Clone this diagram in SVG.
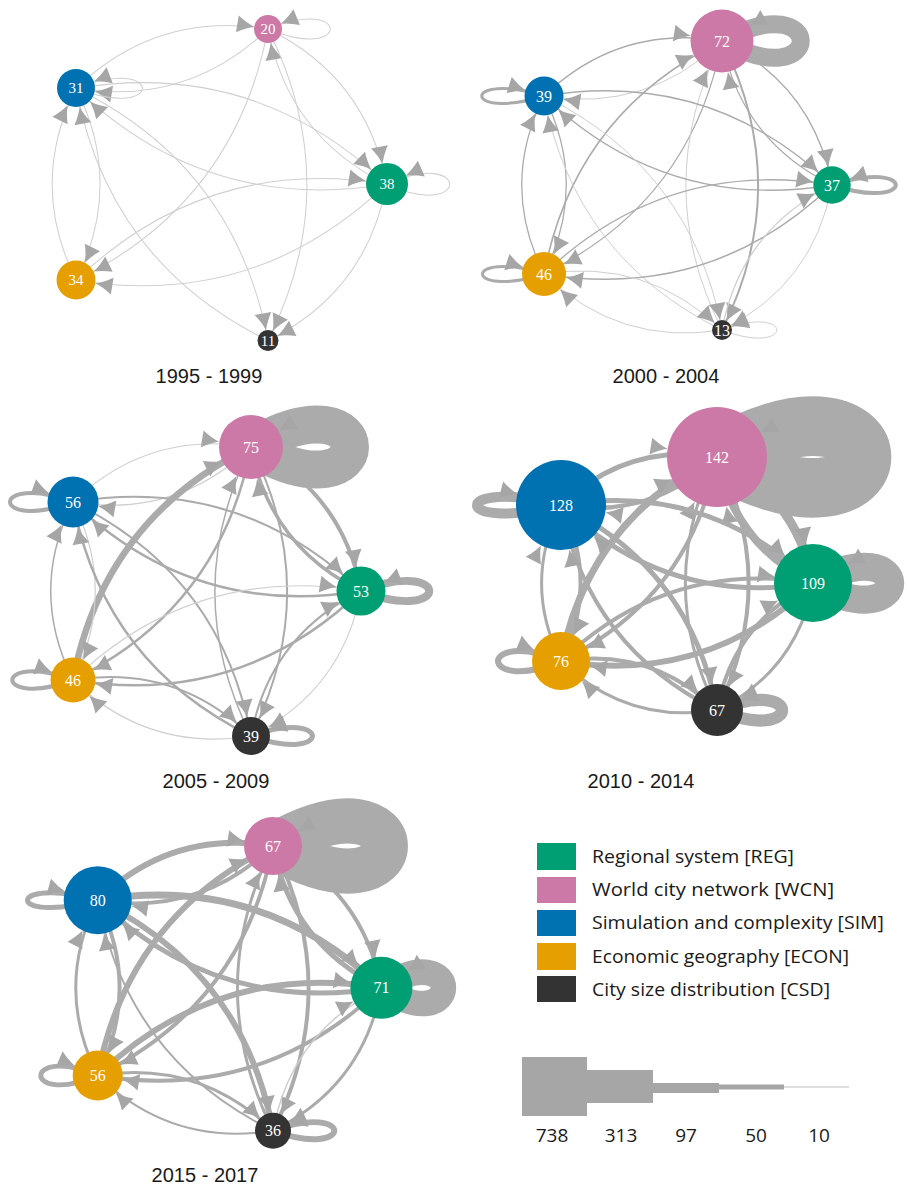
<svg xmlns="http://www.w3.org/2000/svg" xmlns:xlink="http://www.w3.org/1999/xlink" width="907" height="1185" viewBox="0 0 907 1185">
<style>
.t{font-family:"Liberation Sans",Arial,sans-serif;font-size:20px;fill:#1a1a1a;text-anchor:middle}
.nl{font-family:"Liberation Serif","Times New Roman",serif;fill:#fff;text-anchor:middle;dominant-baseline:central;font-size:16px}
.lg{font-family:"Open Sans","Liberation Sans",sans-serif;font-size:19px;fill:#1a1a1a}
.ed path{fill:none;stroke:#ababab}
.ed path.l{stroke:#cfcfcf}
.wcn{fill:#CC79A7}.sim{fill:#0072B2}.reg{fill:#009E73}.econ{fill:#E69F00}.csd{fill:#333333}
</style>
<defs>
<path id="ah" d="M0,0 Q-8,-2.5 -17,-8.5 L-17,8.5 Q-8,2.5 0,0 Z" fill="#a6a6a6"/>
<marker id="m1p" markerUnits="userSpaceOnUse" orient="auto" refX="13" refY="0" markerWidth="40" markerHeight="40" overflow="visible"><use href="#ah" transform="scale(0.93)"/></marker>
<marker id="m1b" markerUnits="userSpaceOnUse" orient="auto" refX="17.6" refY="0" markerWidth="40" markerHeight="40" overflow="visible"><use href="#ah" transform="scale(0.93)"/></marker>
<marker id="m1g" markerUnits="userSpaceOnUse" orient="auto" refX="19.5" refY="0" markerWidth="40" markerHeight="40" overflow="visible"><use href="#ah" transform="scale(0.93)"/></marker>
<marker id="m1o" markerUnits="userSpaceOnUse" orient="auto" refX="18.1" refY="0" markerWidth="40" markerHeight="40" overflow="visible"><use href="#ah" transform="scale(0.93)"/></marker>
<marker id="m1k" markerUnits="userSpaceOnUse" orient="auto" refX="9.7" refY="0" markerWidth="40" markerHeight="40" overflow="visible"><use href="#ah" transform="scale(0.93)"/></marker>
<marker id="m2p" markerUnits="userSpaceOnUse" orient="auto" refX="31.5" refY="0" markerWidth="40" markerHeight="40" overflow="visible"><use href="#ah"/></marker>
<marker id="m2b" markerUnits="userSpaceOnUse" orient="auto" refX="19.5" refY="0" markerWidth="40" markerHeight="40" overflow="visible"><use href="#ah"/></marker>
<marker id="m2g" markerUnits="userSpaceOnUse" orient="auto" refX="18.7" refY="0" markerWidth="40" markerHeight="40" overflow="visible"><use href="#ah"/></marker>
<marker id="m2o" markerUnits="userSpaceOnUse" orient="auto" refX="22" refY="0" markerWidth="40" markerHeight="40" overflow="visible"><use href="#ah"/></marker>
<marker id="m2k" markerUnits="userSpaceOnUse" orient="auto" refX="10" refY="0" markerWidth="40" markerHeight="40" overflow="visible"><use href="#ah"/></marker>
<marker id="m3p" markerUnits="userSpaceOnUse" orient="auto" refX="32.5" refY="0" markerWidth="40" markerHeight="40" overflow="visible"><use href="#ah"/></marker>
<marker id="m3b" markerUnits="userSpaceOnUse" orient="auto" refX="25.5" refY="0" markerWidth="40" markerHeight="40" overflow="visible"><use href="#ah"/></marker>
<marker id="m3g" markerUnits="userSpaceOnUse" orient="auto" refX="24.5" refY="0" markerWidth="40" markerHeight="40" overflow="visible"><use href="#ah"/></marker>
<marker id="m3o" markerUnits="userSpaceOnUse" orient="auto" refX="22.5" refY="0" markerWidth="40" markerHeight="40" overflow="visible"><use href="#ah"/></marker>
<marker id="m3k" markerUnits="userSpaceOnUse" orient="auto" refX="19.5" refY="0" markerWidth="40" markerHeight="40" overflow="visible"><use href="#ah"/></marker>
<marker id="m4p" markerUnits="userSpaceOnUse" orient="auto" refX="57.1" refY="0" markerWidth="40" markerHeight="40" overflow="visible"><use href="#ah" transform="scale(1.14)"/></marker>
<marker id="m4b" markerUnits="userSpaceOnUse" orient="auto" refX="51.4" refY="0" markerWidth="40" markerHeight="40" overflow="visible"><use href="#ah" transform="scale(1.14)"/></marker>
<marker id="m4g" markerUnits="userSpaceOnUse" orient="auto" refX="44.5" refY="0" markerWidth="40" markerHeight="40" overflow="visible"><use href="#ah" transform="scale(1.14)"/></marker>
<marker id="m4o" markerUnits="userSpaceOnUse" orient="auto" refX="33.1" refY="0" markerWidth="40" markerHeight="40" overflow="visible"><use href="#ah" transform="scale(1.14)"/></marker>
<marker id="m4k" markerUnits="userSpaceOnUse" orient="auto" refX="29.7" refY="0" markerWidth="40" markerHeight="40" overflow="visible"><use href="#ah" transform="scale(1.14)"/></marker>
<marker id="m5p" markerUnits="userSpaceOnUse" orient="auto" refX="29.4" refY="0" markerWidth="40" markerHeight="40" overflow="visible"><use href="#ah"/></marker>
<marker id="m5b" markerUnits="userSpaceOnUse" orient="auto" refX="34.5" refY="0" markerWidth="40" markerHeight="40" overflow="visible"><use href="#ah"/></marker>
<marker id="m5g" markerUnits="userSpaceOnUse" orient="auto" refX="31.5" refY="0" markerWidth="40" markerHeight="40" overflow="visible"><use href="#ah"/></marker>
<marker id="m5o" markerUnits="userSpaceOnUse" orient="auto" refX="25.4" refY="0" markerWidth="40" markerHeight="40" overflow="visible"><use href="#ah"/></marker>
<marker id="m5k" markerUnits="userSpaceOnUse" orient="auto" refX="18.3" refY="0" markerWidth="40" markerHeight="40" overflow="visible"><use href="#ah"/></marker>
</defs>
<rect width="907" height="1185" fill="#fff"/>

<!-- ===== 1995 - 1999 ===== -->
<g id="edges-1995" class="ed" transform="translate(268,29) scale(1.078)" stroke-width="0.95">
<path class="l" d="M-178,55 Q-102.75,-17 0,0" marker-end="url(#m1p)"/>
<path class="l" d="M110,144 Q19,99.5 0,0" marker-end="url(#m1p)"/>
<path class="l" d="M0,0 Q-75.25,72 -178,55" marker-end="url(#m1b)"/>
<path class="l" d="M0,0 Q91,44.5 110,144" marker-end="url(#m1g)"/>
<path class="l" d="M0,0 Q-30.75,161 -178,233" marker-end="url(#m1o)"/>
<path class="l" d="M0,0 Q72.25,144.5 0,289" marker-end="url(#m1k)"/>
<path class="l" d="M-178,55 Q-11.75,27.5 110,144" marker-end="url(#m1g)"/>
<path class="l" d="M-178,55 Q-133.5,144 -178,233" marker-end="url(#m1o)"/>
<path class="l" d="M-178,55 Q-30.5,127.5 0,289" marker-end="url(#m1k)"/>
<path class="l" d="M110,144 Q-56.25,171.5 -178,55" marker-end="url(#m1b)"/>
<path class="l" d="M110,144 Q-11.75,260.5 -178,233" marker-end="url(#m1o)"/>
<path class="l" d="M110,144 Q91.25,244 0,289" marker-end="url(#m1k)"/>
<path class="l" d="M-178,233 Q-222.5,144 -178,55" marker-end="url(#m1b)"/>
<path class="l" d="M-178,233 Q-56.25,116.5 110,144" marker-end="url(#m1g)"/>
<path class="l" d="M0,289 Q-147.5,216.5 -178,55" marker-end="url(#m1b)"/>
<path class="l" d="M0,0 C77,32 77,-32 0,0" marker-end="url(#m1p)"/>
<path class="l" d="M-178,55 C-96,87 -96,23 -178,55" marker-end="url(#m1b)"/>
<path class="l" d="M110,144 C188,179 188,109 110,144" marker-end="url(#m1g)"/>
</g>
<g id="n1995-wcn"><circle class="wcn" cx="268" cy="29" r="14"/><text class="nl" x="268" y="29" style="font-size:15px">20</text></g>
<g id="n1995-sim"><circle class="sim" cx="76" cy="88" r="19"/><text class="nl" x="76" y="88" style="font-size:15px">31</text></g>
<g id="n1995-reg"><circle class="reg" cx="387" cy="184" r="21"/><text class="nl" x="387" y="184" style="font-size:15px">38</text></g>
<g id="n1995-econ"><circle class="econ" cx="76" cy="280" r="19.5"/><text class="nl" x="76" y="280" style="font-size:15px">34</text></g>
<g id="n1995-csd"><circle class="csd" cx="268" cy="340.5" r="10.5"/><text class="nl" x="268" y="340.5" style="font-size:15px">11</text></g>
<text class="t" x="209" y="383">1995 - 1999</text>

<!-- ===== 2000 - 2004 ===== -->
<g id="edges-2000" class="ed" transform="translate(722,41)">
<path class="l" d="M0,0 Q-75.25,72 -178,55" stroke-width="1" marker-end="url(#m2b)"/>
<path d="M-178,55 Q-102.75,-17 0,0" stroke-width="1.3" marker-end="url(#m2p)"/>
<path d="M0,0 Q91,44.5 110,144" stroke-width="1.3" marker-end="url(#m2g)"/>
<path d="M110,144 Q19,99.5 0,0" stroke-width="1.3" marker-end="url(#m2p)"/>
<path d="M0,0 Q-30.75,161 -178,233" stroke-width="1.3" marker-end="url(#m2o)"/>
<path d="M-178,233 Q-147.25,72 0,0" stroke-width="1.6" marker-end="url(#m2p)"/>
<path d="M0,0 Q72.25,144.5 0,289" stroke-width="2" marker-end="url(#m2k)"/>
<path class="l" d="M0,289 Q-72.25,144.5 0,0" stroke-width="1" marker-end="url(#m2p)"/>
<path d="M-178,55 Q-11.75,27.5 110,144" stroke-width="1.3" marker-end="url(#m2g)"/>
<path d="M110,144 Q-56.25,171.5 -178,55" stroke-width="1.3" marker-end="url(#m2b)"/>
<path d="M-178,55 Q-133.5,144 -178,233" stroke-width="1.3" marker-end="url(#m2o)"/>
<path d="M-178,233 Q-222.5,144 -178,55" stroke-width="1.3" marker-end="url(#m2b)"/>
<path class="l" d="M-178,55 Q-30.5,127.5 0,289" stroke-width="1" marker-end="url(#m2k)"/>
<path class="l" d="M0,289 Q-147.5,216.5 -178,55" stroke-width="1" marker-end="url(#m2b)"/>
<path d="M110,144 Q-11.75,260.5 -178,233" stroke-width="1.5" marker-end="url(#m2o)"/>
<path d="M-178,233 Q-56.25,116.5 110,144" stroke-width="1.3" marker-end="url(#m2g)"/>
<path class="l" d="M110,144 Q91.25,244 0,289" stroke-width="1" marker-end="url(#m2k)"/>
<path class="l" d="M0,289 Q18.75,189 110,144" stroke-width="1.3" marker-end="url(#m2g)"/>
<path class="l" d="M-178,233 Q-75,216.5 0,289" stroke-width="1" marker-end="url(#m2k)"/>
<path class="l" d="M0,289 Q-103,305.5 -178,233" stroke-width="1" marker-end="url(#m2o)"/>
<path d="M0,0 C105,58 105,-58 0,0" stroke-width="18" marker-end="url(#m2p)"/>
<path d="M-178,55 C-261,81 -261,29 -178,55" stroke-width="3" marker-end="url(#m2b)"/>
<path d="M110,144 C195,172 195,116 110,144" stroke-width="4" marker-end="url(#m2g)"/>
<path d="M-178,233 C-260,259 -260,207 -178,233" stroke-width="3" marker-end="url(#m2o)"/>
<path class="l" d="M0,289 C73,317 73,261 0,289" stroke-width="1" marker-end="url(#m2k)"/>
</g>
<g id="n2000-wcn"><circle class="wcn" cx="722" cy="41" r="31.5"/><text class="nl" x="722" y="41">72</text></g>
<g id="n2000-sim"><circle class="sim" cx="544" cy="96" r="19.5"/><text class="nl" x="544" y="96">39</text></g>
<g id="n2000-reg"><circle class="reg" cx="832" cy="185" r="18.7"/><text class="nl" x="832" y="185">37</text></g>
<g id="n2000-econ"><circle class="econ" cx="544" cy="274" r="22"/><text class="nl" x="544" y="274">46</text></g>
<g id="n2000-csd"><circle class="csd" cx="722" cy="330" r="10"/><text class="nl" x="722" y="330">13</text></g>
<text class="t" x="666" y="383">2000 - 2004</text>

<!-- ===== 2005 - 2009 ===== -->
<g id="edges-2005" class="ed" transform="translate(251,447)">
<path class="l" d="M0,0 Q-75.25,72 -178,55" stroke-width="1.2" marker-end="url(#m3b)"/>
<path class="l" d="M-178,55 Q-102.75,-17 0,0" stroke-width="1.2" marker-end="url(#m3p)"/>
<path d="M0,0 Q91,44.5 110,144" stroke-width="4" marker-end="url(#m3g)"/>
<path d="M110,144 Q19,99.5 0,0" stroke-width="3.5" marker-end="url(#m3p)"/>
<path d="M0,0 Q-30.75,161 -178,233" stroke-width="2.5" marker-end="url(#m3o)"/>
<path d="M-178,233 Q-147.25,72 0,0" stroke-width="6.5" marker-end="url(#m3p)"/>
<path d="M0,0 Q72.25,144.5 0,289" stroke-width="2" marker-end="url(#m3k)"/>
<path d="M0,289 Q-72.25,144.5 0,0" stroke-width="1.5" marker-end="url(#m3p)"/>
<path d="M-178,55 Q-11.75,27.5 110,144" stroke-width="2" marker-end="url(#m3g)"/>
<path d="M110,144 Q-56.25,171.5 -178,55" stroke-width="2.5" marker-end="url(#m3b)"/>
<path class="l" d="M-178,55 Q-133.5,144 -178,233" stroke-width="1.2" marker-end="url(#m3o)"/>
<path d="M-178,233 Q-222.5,144 -178,55" stroke-width="1.5" marker-end="url(#m3b)"/>
<path d="M-178,55 Q-30.5,127.5 0,289" stroke-width="2" marker-end="url(#m3k)"/>
<path d="M0,289 Q-147.5,216.5 -178,55" stroke-width="2.5" marker-end="url(#m3b)"/>
<path d="M110,144 Q-11.75,260.5 -178,233" stroke-width="2.5" marker-end="url(#m3o)"/>
<path class="l" d="M-178,233 Q-56.25,116.5 110,144" stroke-width="1.2" marker-end="url(#m3g)"/>
<path class="l" d="M110,144 Q91.25,244 0,289" stroke-width="1.2" marker-end="url(#m3k)"/>
<path d="M0,289 Q18.75,189 110,144" stroke-width="2" marker-end="url(#m3g)"/>
<path d="M-178,233 Q-75,216.5 0,289" stroke-width="2" marker-end="url(#m3k)"/>
<path class="l" d="M0,289 Q-103,305.5 -178,233" stroke-width="1.2" marker-end="url(#m3o)"/>
<path d="M0,0 C132,78 132,-78 0,0" stroke-width="38" marker-end="url(#m3p)"/>
<path d="M-178,55 C-262,86 -262,24 -178,55" stroke-width="4" marker-end="url(#m3b)"/>
<path d="M110,144 C201,179 201,109 110,144" stroke-width="8" marker-end="url(#m3g)"/>
<path d="M-178,233 C-259,263 -259,203 -178,233" stroke-width="4" marker-end="url(#m3o)"/>
<path d="M0,289 C82,318 82,260 0,289" stroke-width="5" marker-end="url(#m3k)"/>
</g>
<g id="n2005-wcn"><circle class="wcn" cx="251" cy="447" r="32"/><text class="nl" x="251" y="447">75</text></g>
<g id="n2005-sim"><circle class="sim" cx="73" cy="502" r="25.5"/><text class="nl" x="73" y="502">56</text></g>
<g id="n2005-reg"><circle class="reg" cx="361" cy="591" r="24.5"/><text class="nl" x="361" y="591">53</text></g>
<g id="n2005-econ"><circle class="econ" cx="73" cy="680" r="22.5"/><text class="nl" x="73" y="680">46</text></g>
<g id="n2005-csd"><circle class="csd" cx="251" cy="736" r="19"/><text class="nl" x="251" y="736">39</text></g>
<text class="t" x="216" y="788">2005 - 2009</text>

<!-- ===== 2010 - 2014 ===== -->
<g id="edges-2010" class="ed" transform="translate(717,457) scale(0.876)">
<path d="M0,0 Q-75.25,72 -178,55" stroke-width="5.1" marker-end="url(#m4b)"/>
<path d="M-178,55 Q-102.75,-17 0,0" stroke-width="5.7" marker-end="url(#m4p)"/>
<path d="M0,0 Q91,44.5 110,144" stroke-width="10.3" marker-end="url(#m4g)"/>
<path d="M110,144 Q19,99.5 0,0" stroke-width="9.1" marker-end="url(#m4p)"/>
<path d="M0,0 Q-30.75,161 -178,233" stroke-width="4.6" marker-end="url(#m4o)"/>
<path d="M-178,233 Q-147.25,72 0,0" stroke-width="8" marker-end="url(#m4p)"/>
<path d="M0,0 Q72.25,144.5 0,289" stroke-width="4.6" marker-end="url(#m4k)"/>
<path d="M0,289 Q-72.25,144.5 0,0" stroke-width="3.4" marker-end="url(#m4p)"/>
<path d="M-178,55 Q-11.75,27.5 110,144" stroke-width="5.7" marker-end="url(#m4g)"/>
<path d="M110,144 Q-56.25,171.5 -178,55" stroke-width="5.7" marker-end="url(#m4b)"/>
<path d="M-178,55 Q-133.5,144 -178,233" stroke-width="4.6" marker-end="url(#m4o)"/>
<path d="M-178,233 Q-222.5,144 -178,55" stroke-width="3.4" marker-end="url(#m4b)"/>
<path d="M-178,55 Q-30.5,127.5 0,289" stroke-width="5.7" marker-end="url(#m4k)"/>
<path d="M0,289 Q-147.5,216.5 -178,55" stroke-width="4.6" marker-end="url(#m4b)"/>
<path d="M110,144 Q-11.75,260.5 -178,233" stroke-width="6.8" marker-end="url(#m4o)"/>
<path d="M-178,233 Q-56.25,116.5 110,144" stroke-width="4.6" marker-end="url(#m4g)"/>
<path d="M110,144 Q91.25,244 0,289" stroke-width="3.4" marker-end="url(#m4k)"/>
<path d="M0,289 Q18.75,189 110,144" stroke-width="4.6" marker-end="url(#m4g)"/>
<path d="M-178,233 Q-75,216.5 0,289" stroke-width="4.6" marker-end="url(#m4k)"/>
<path d="M0,289 Q-103,305.5 -178,233" stroke-width="3.4" marker-end="url(#m4o)"/>
<path d="M0,0 C220,122 220,-122 0,0" stroke-width="68" marker-end="url(#m4p)"/>
<path d="M-178,55 C-306,88 -306,22 -178,55" stroke-width="11.4" marker-end="url(#m4b)"/>
<path d="M110,144 C227,209 227,79 110,144" stroke-width="32" marker-end="url(#m4g)"/>
<path d="M-178,233 C-274,273 -274,193 -178,233" stroke-width="7" marker-end="url(#m4o)"/>
<path d="M0,289 C99,330 99,248 0,289" stroke-width="14" marker-end="url(#m4k)"/>
</g>
<g id="n2010-wcn"><circle class="wcn" cx="717" cy="457" r="50"/><text class="nl" x="717" y="457">142</text></g>
<g id="n2010-sim"><circle class="sim" cx="561" cy="505" r="45"/><text class="nl" x="561" y="505">128</text></g>
<g id="n2010-reg"><circle class="reg" cx="813" cy="583" r="39"/><text class="nl" x="813" y="583">109</text></g>
<g id="n2010-econ"><circle class="econ" cx="561" cy="661" r="29"/><text class="nl" x="561" y="661">76</text></g>
<g id="n2010-csd"><circle class="csd" cx="717" cy="710" r="26"/><text class="nl" x="717" y="710">67</text></g>
<text class="t" x="641" y="788">2010 - 2014</text>

<!-- ===== 2015 - 2017 ===== -->
<g id="edges-2015" class="ed" transform="translate(273,846) scale(0.985)">
<path d="M0,0 Q-75.25,72 -178,55" stroke-width="4" marker-end="url(#m5b)"/>
<path d="M-178,55 Q-102.75,-17 0,0" stroke-width="6" marker-end="url(#m5p)"/>
<path d="M0,0 Q91,44.5 110,144" stroke-width="4" marker-end="url(#m5g)"/>
<path d="M110,144 Q19,99.5 0,0" stroke-width="5" marker-end="url(#m5p)"/>
<path d="M0,0 Q-30.75,161 -178,233" stroke-width="4" marker-end="url(#m5o)"/>
<path d="M-178,233 Q-147.25,72 0,0" stroke-width="6" marker-end="url(#m5p)"/>
<path d="M0,0 Q72.25,144.5 0,289" stroke-width="4" marker-end="url(#m5k)"/>
<path d="M0,289 Q-72.25,144.5 0,0" stroke-width="3" marker-end="url(#m5p)"/>
<path d="M-178,55 Q-11.75,27.5 110,144" stroke-width="7" marker-end="url(#m5g)"/>
<path d="M110,144 Q-56.25,171.5 -178,55" stroke-width="5" marker-end="url(#m5b)"/>
<path d="M-178,55 Q-133.5,144 -178,233" stroke-width="4" marker-end="url(#m5o)"/>
<path d="M-178,233 Q-222.5,144 -178,55" stroke-width="3" marker-end="url(#m5b)"/>
<path d="M-178,55 Q-30.5,127.5 0,289" stroke-width="6" marker-end="url(#m5k)"/>
<path d="M0,289 Q-147.5,216.5 -178,55" stroke-width="2" marker-end="url(#m5b)"/>
<path d="M110,144 Q-11.75,260.5 -178,233" stroke-width="4" marker-end="url(#m5o)"/>
<path d="M-178,233 Q-56.25,116.5 110,144" stroke-width="6" marker-end="url(#m5g)"/>
<path d="M110,144 Q91.25,244 0,289" stroke-width="3" marker-end="url(#m5k)"/>
<path class="l" d="M0,289 Q18.75,189 110,144" stroke-width="1.5" marker-end="url(#m5g)"/>
<path d="M-178,233 Q-75,216.5 0,289" stroke-width="3" marker-end="url(#m5k)"/>
<path d="M0,289 Q-103,305.5 -178,233" stroke-width="2" marker-end="url(#m5o)"/>
<path d="M0,0 C152,88 152,-88 0,0" stroke-width="46" marker-end="url(#m5p)"/>
<path d="M-178,55 C-273,81 -273,29 -178,55" stroke-width="5" marker-end="url(#m5b)"/>
<path d="M110,144 C194,199 194,89 110,144" stroke-width="26" marker-end="url(#m5g)"/>
<path d="M-178,233 C-255,266 -255,200 -178,233" stroke-width="5" marker-end="url(#m5o)"/>
<path d="M0,289 C83,319 83,259 0,289" stroke-width="6" marker-end="url(#m5k)"/>
</g>
<g id="n2015-wcn"><circle class="wcn" cx="273" cy="846" r="29"/><text class="nl" x="273" y="846">67</text></g>
<g id="n2015-sim"><circle class="sim" cx="97.7" cy="900.2" r="34"/><text class="nl" x="97.7" y="900.2">80</text></g>
<g id="n2015-reg"><circle class="reg" cx="381.4" cy="987.8" r="31"/><text class="nl" x="381.4" y="987.8">71</text></g>
<g id="n2015-econ"><circle class="econ" cx="97.7" cy="1075.5" r="25"/><text class="nl" x="97.7" y="1075.5">56</text></g>
<g id="n2015-csd"><circle class="csd" cx="273" cy="1130.7" r="18"/><text class="nl" x="273" y="1130.7">36</text></g>
<text class="t" x="205" y="1182">2015 - 2017</text>

<!-- ===== Legend ===== -->
<g id="legend">
<rect class="reg" x="537" y="843" width="39" height="27"/>
<rect class="wcn" x="537" y="877" width="39" height="26"/>
<rect class="sim" x="537" y="910" width="39" height="26"/>
<rect class="econ" x="537" y="943" width="39" height="27"/>
<rect class="csd" x="537" y="976" width="39" height="26"/>
<text class="lg" x="592" y="863" textLength="202" lengthAdjust="spacingAndGlyphs">Regional system [REG]</text>
<text class="lg" x="592" y="896" textLength="242" lengthAdjust="spacingAndGlyphs">World city network [WCN]</text>
<text class="lg" x="592" y="929" textLength="292" lengthAdjust="spacingAndGlyphs">Simulation and complexity [SIM]</text>
<text class="lg" x="592" y="963" textLength="257" lengthAdjust="spacingAndGlyphs">Economic geography [ECON]</text>
<text class="lg" x="592" y="996" textLength="238" lengthAdjust="spacingAndGlyphs">City size distribution [CSD]</text>
</g>
<g id="width-legend" fill="#a6a6a6">
<rect x="522" y="1057" width="65" height="59"/>
<rect x="587" y="1070" width="66" height="33"/>
<rect x="653" y="1083" width="66" height="10"/>
<rect x="719" y="1084.5" width="65" height="5"/>
<line x1="784" y1="1087" x2="849" y2="1087" stroke="#bdbdbd" stroke-width="1"/>
<text class="lg" x="552" y="1142" text-anchor="middle">738</text>
<text class="lg" x="621" y="1142" text-anchor="middle">313</text>
<text class="lg" x="686" y="1142" text-anchor="middle">97</text>
<text class="lg" x="756" y="1142" text-anchor="middle">50</text>
<text class="lg" x="819" y="1142" text-anchor="middle">10</text>
</g>
</svg>
